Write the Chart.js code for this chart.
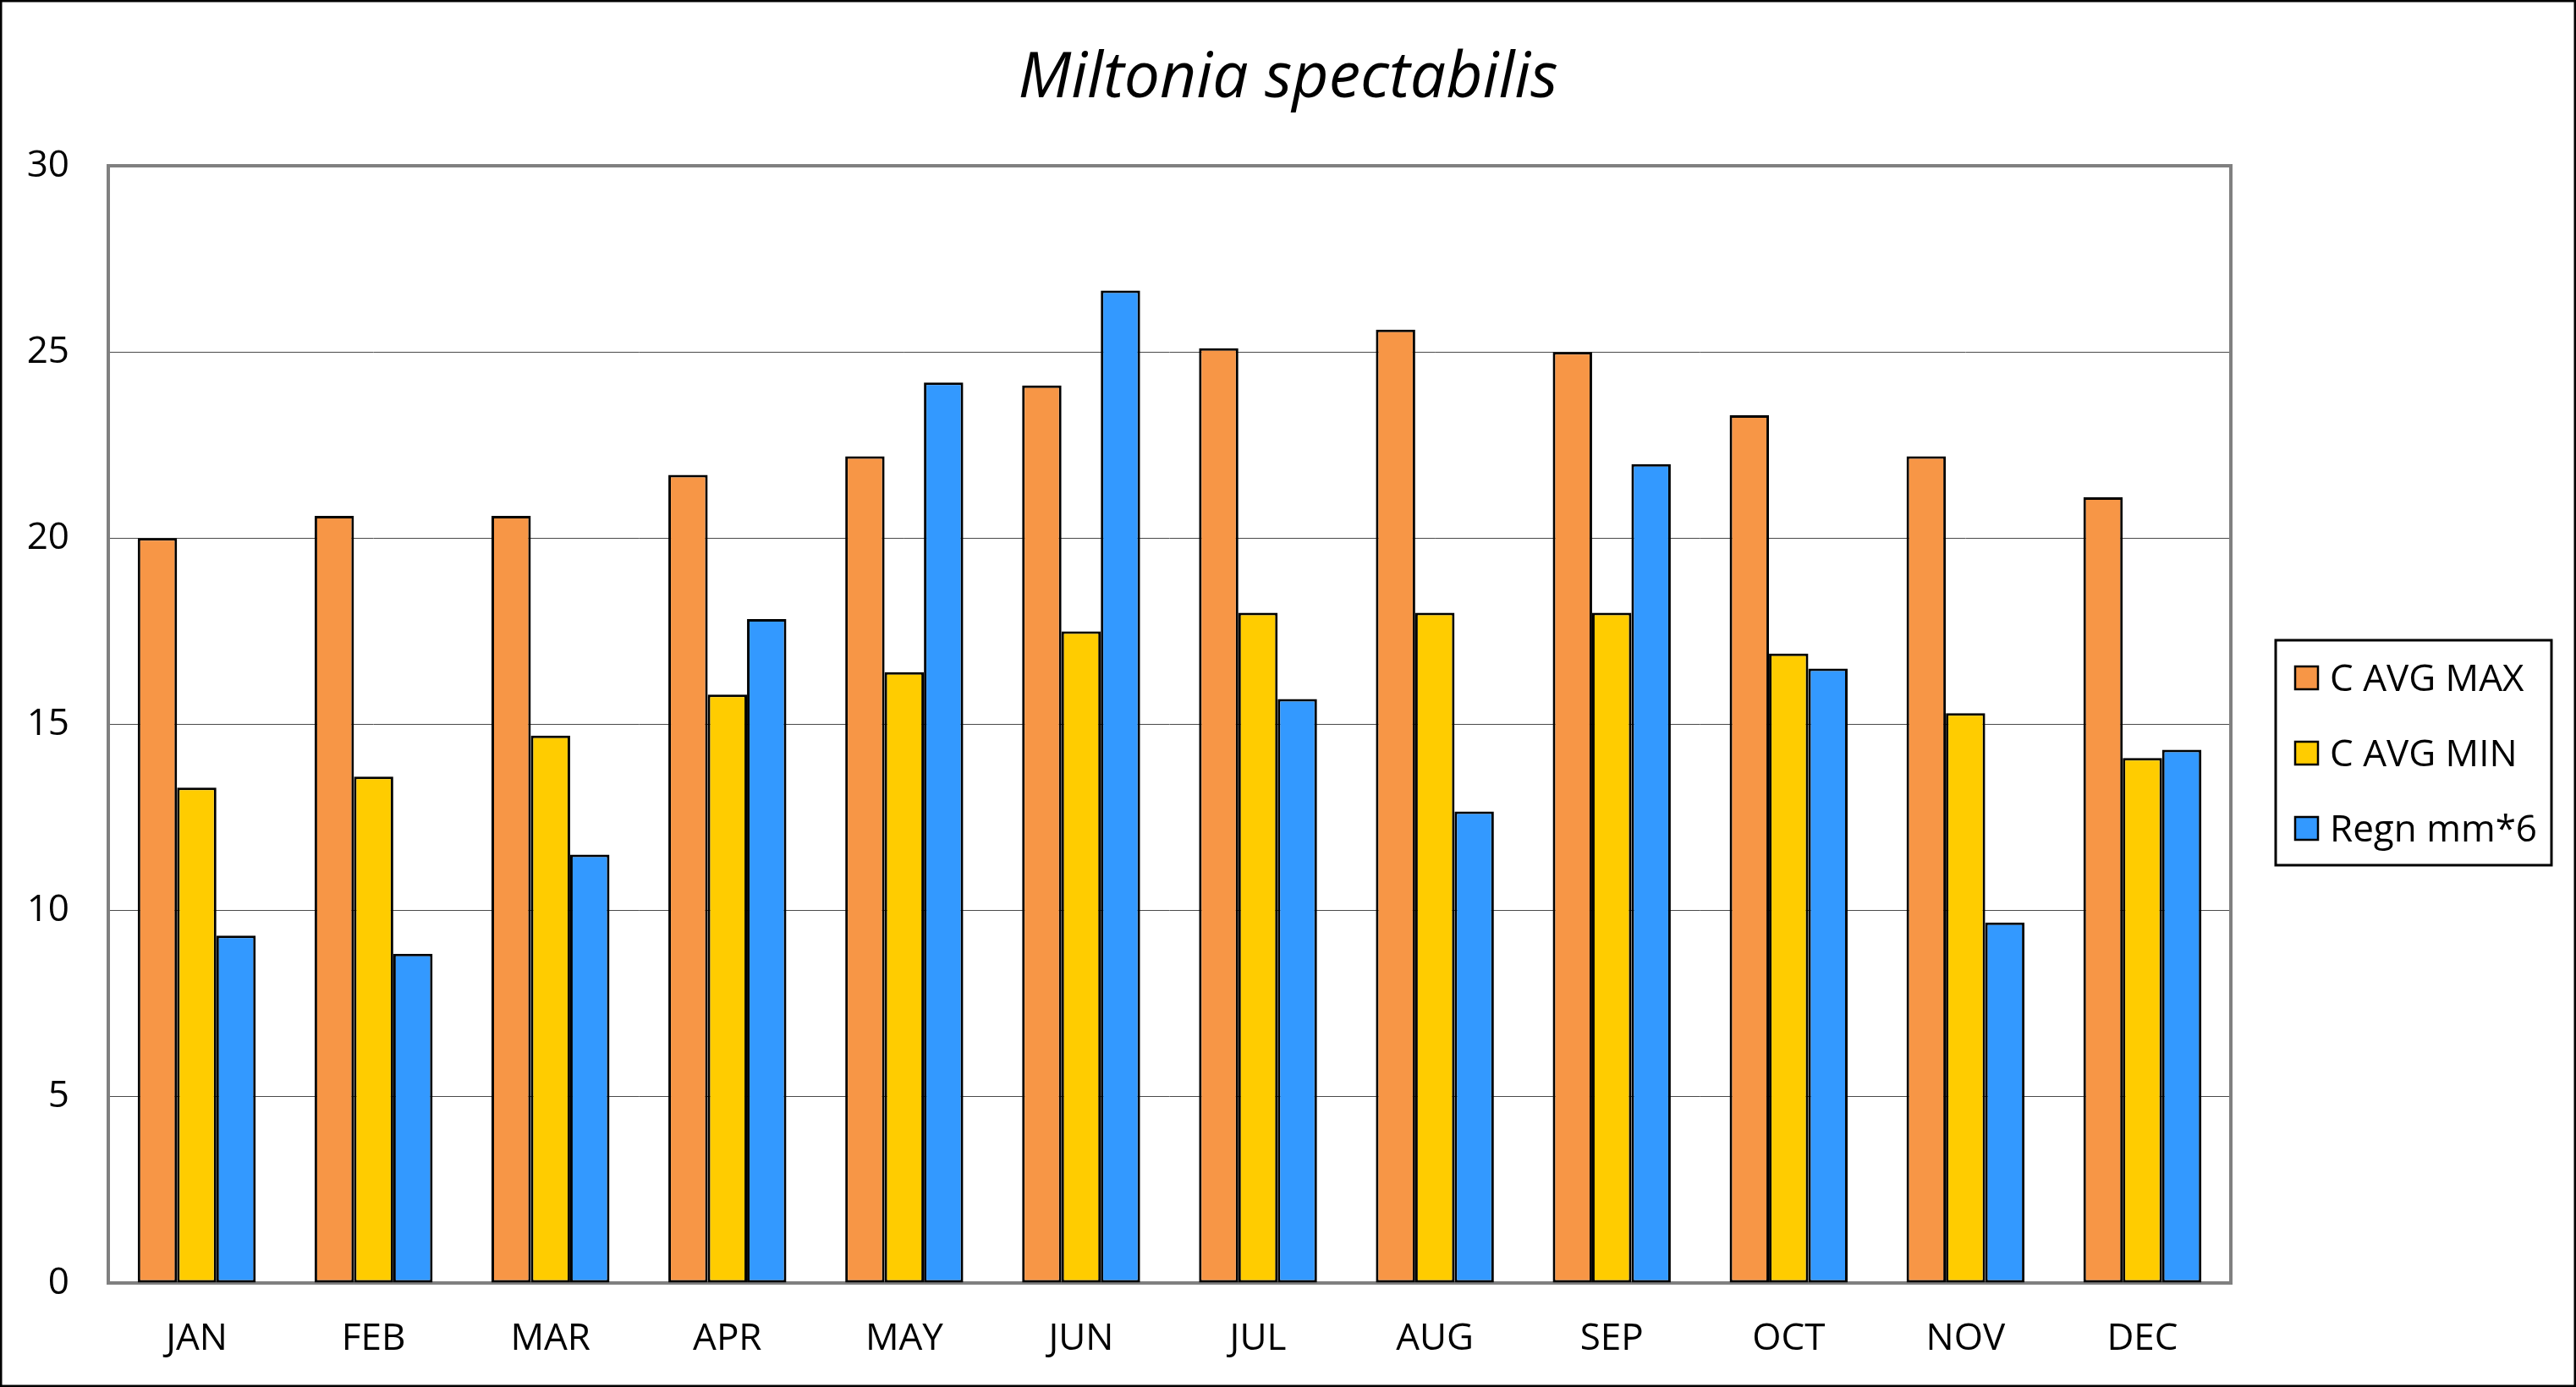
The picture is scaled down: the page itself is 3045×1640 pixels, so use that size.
<!DOCTYPE html>
<html><head><meta charset="utf-8">
<script src="https://cdn.jsdelivr.net/npm/chart.js@4.4.1/dist/chart.umd.min.js"></script>
<style>html,body{margin:0;padding:0;background:#fff;} canvas{display:block;}</style>
</head><body>
<div style="width:3045px;height:1640px;position:relative"><canvas id="c" width="3045" height="1640"></canvas></div>
<script>
const categories = ['JAN','FEB','MAR','APR','MAY','JUN','JUL','AUG','SEP','OCT','NOV','DEC'];
const seriesNames = ['C AVG MAX','C AVG MIN','Regn mm*6'];
const avgMax = [20.0,20.6,20.6,21.7,22.2,24.1,25.1,25.6,25.0,23.3,22.2,21.1];
const avgMin = [13.3,13.6,14.7,15.8,16.4,17.5,18.0,18.0,18.0,16.9,15.3,14.1];
const rainX6 = [9.33,8.84,11.5,17.83,24.18,26.65,15.68,12.66,21.99,16.5,9.68,14.32];
const yTicks = [0,5,10,15,20,25,30];
const chartTitle = 'Miltonia spectabilis';
const colors = ['#F79646','#FFCC00','#3399FF'];

const FONT = "'Open Sans', 'DejaVu Sans', sans-serif";

const decor = {
  id: 'decor',
  beforeDatasetsDraw(chart) {
    const {ctx, chartArea: a} = chart;
    ctx.save();
    ctx.strokeStyle = '#808080';
    ctx.lineWidth = 4;
    ctx.strokeRect(a.left, a.top, a.right - a.left, a.bottom - a.top);
    ctx.restore();
  },
  afterDraw(chart) {
    const {ctx} = chart;
    ctx.save();
    // outer border
    ctx.strokeStyle = '#000';
    ctx.lineWidth = 3;
    ctx.strokeRect(1, 1, chart.width - 2, chart.height - 2);
    // title
    ctx.fillStyle = '#000';
    ctx.font = "italic 75px " + FONT;
    ctx.textAlign = 'center';
    ctx.textBaseline = 'alphabetic';
    ctx.fillText(chartTitle, chart.width / 2, 115);
    // legend
    const bx = 2690, by = 757, bw = 326, bh = 266;
    ctx.lineWidth = 3;
    ctx.strokeStyle = '#000';
    ctx.strokeRect(bx, by, bw, bh);
    const ys = [802, 891, 980];
    ctx.font = "44px " + FONT;
    ctx.textAlign = 'left';
    ctx.textBaseline = 'middle';
    chart.data.datasets.forEach((ds, i) => {
      const y = ys[i];
      ctx.fillStyle = ds.backgroundColor;
      ctx.fillRect(2713, y - 14, 27, 27);
      ctx.lineWidth = 2.5;
      ctx.strokeStyle = '#000';
      ctx.strokeRect(2713, y - 14, 27, 27);
      ctx.fillStyle = '#000';
      ctx.fillText(ds.label, 2754, y + 2);
    });
    ctx.restore();
  }
};

new Chart(document.getElementById('c'), {
  type: 'bar',
  data: {
    labels: categories,
    datasets: [avgMax, avgMin, rainX6].map((d, i) => ({
      label: seriesNames[i],
      data: d,
      backgroundColor: colors[i],
      borderColor: '#000',
      borderWidth: 3,
      borderSkipped: false,
      categoryPercentage: 0.667,
      barPercentage: 1.0
    }))
  },
  options: {
    responsive: false,
    animation: false,
    devicePixelRatio: 1,
    layout: { padding: { top: 196, right: 408, bottom: 0, left: 0 } },
    plugins: { legend: { display: false }, title: { display: false }, tooltip: { enabled: false } },
    scales: {
      x: {
        grid: { display: false, drawTicks: false },
        border: { display: false },
        ticks: { color: '#000', font: { family: FONT, size: 44 }, padding: 40, maxRotation: 0 },
        afterFit(s) { s.height = 123; }
      },
      y: {
        min: 0, max: 30,
        afterBuildTicks(s) { s.ticks = yTicks.map(v => ({ value: v })); },
        grid: {
          drawTicks: false,
          color: ctx => (ctx.tick && (ctx.tick.value === 0 || ctx.tick.value === 30)) ? 'rgba(0,0,0,0)' : '#4a4a4a',
          lineWidth: 1
        },
        border: { display: false },
        ticks: { color: '#000', font: { family: FONT, size: 44 }, padding: 46 },
        afterFit(s) { s.width = 128; }
      }
    }
  },
  plugins: [decor]
});
</script>
</body></html>
